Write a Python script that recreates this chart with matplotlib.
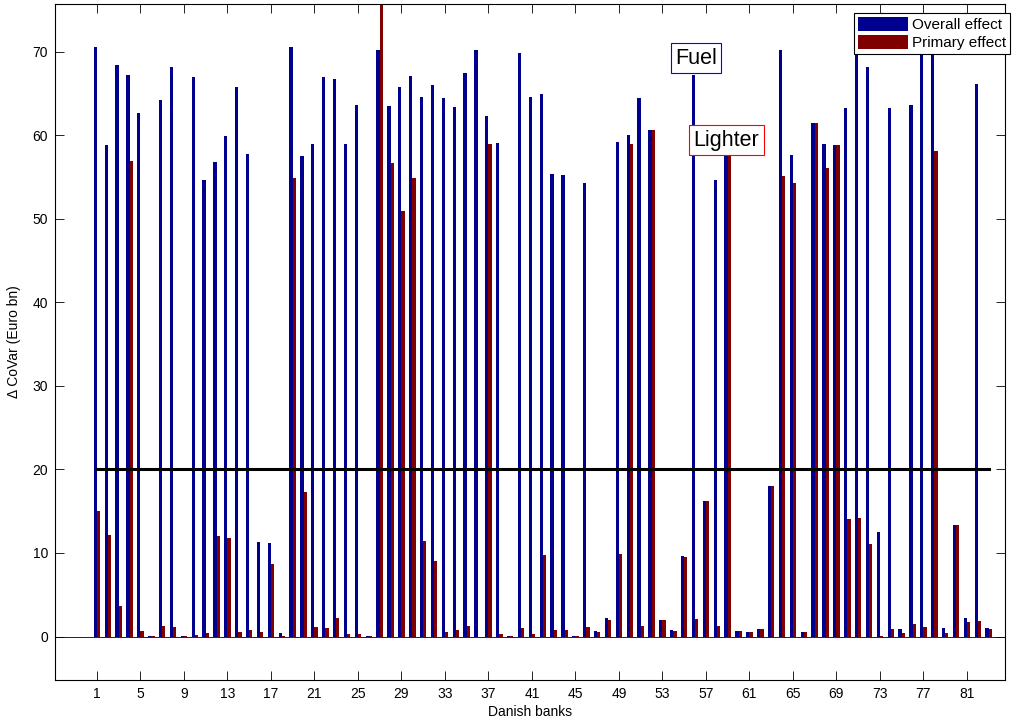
import numpy as np
import matplotlib
matplotlib.use('Agg')
import matplotlib.pyplot as plt

plt.rcParams['font.family'] = ['Liberation Sans', 'DejaVu Sans']

# Delta CoVar per Danish bank (Euro bn)
banks = list(range(1, 84))

overall_effect = [
    70.6, 58.8, 68.4, 67.2, 62.6, 0.1, 64.2, 68.2, 0.1, 67.0,
    54.6, 56.8, 59.9, 65.8, 57.8, 11.3, 11.2, 0.4, 70.6, 57.5,
    59.0, 67.0, 66.7, 58.9, 63.6, 0.1, 70.2, 63.5, 65.8, 67.1,
    64.6, 66.0, 64.5, 63.4, 67.4, 70.2, 62.3, 59.1, 0.1, 69.8,
    64.6, 64.9, 55.4, 55.2, 0.05, 54.3, 0.64, 2.2, 59.2, 60.0,
    64.5, 60.6, 2.0, 0.76, 9.6, 67.2, 16.2, 54.6, 57.6, 0.64,
    0.5, 0.9, 18.0, 70.2, 57.6, 0.5, 61.5, 58.9, 58.8, 63.2,
    71.0, 68.2, 12.5, 63.3, 0.9, 63.6, 70.5, 70.0, 1.0, 13.3,
    2.2, 66.1, 1.0,
]

primary_effect = [
    15.0, 12.1, 3.7, 56.9, 0.7, 0.05, 1.3, 1.1, 0.05, 0.16,
    0.4, 12.0, 11.8, 0.6, 0.84, 0.6, 8.7, 0.05, 54.9, 17.3,
    1.1, 1.0, 2.2, 0.3, 0.3, 0.05, 76.0, 56.7, 50.9, 54.9,
    11.4, 9.0, 0.5, 0.84, 1.3, -0.1, 58.9, 0.3, 0.05, 1.0,
    0.36, 9.8, 0.84, 0.84, 0.05, 1.1, 0.5, 2.0, 9.9, 58.9,
    1.3, 60.6, 2.0, 0.72, 9.56, 2.1, 16.2, 1.2, 57.6, 0.64,
    0.5, 0.9, 18.0, 55.1, 54.3, 0.5, 61.5, 56.1, 58.8, 14.1,
    14.2, 11.1, 0.02, 0.9, 0.4, 1.44, 1.1, 58.1, 0.4, 13.3,
    1.7, 1.9, 0.9,
]

threshold = 20
xtick_values = list(range(1, 82, 4))
series_names = ['Overall effect', 'Primary effect']

# annotations: label, bank position, height, box colour
notes = [('Fuel', 56.1, 69.2, 'blue'), ('Lighter', 58.9, 59.4, 'red')]


def draw_chart():
    fig = plt.figure(figsize=(10.18, 7.21), dpi=100)
    ax = fig.add_axes([0.054, 0.0569, 0.9332, 0.9376])

    x = np.array(banks)
    width = 0.3
    b1 = ax.bar(x - width / 2, overall_effect, width, color='#00008f',
                linewidth=0, label=series_names[0], zorder=2)
    b2 = ax.bar(x + width / 2, primary_effect, width, color='#800000',
                linewidth=0, label=series_names[1], zorder=2)

    # zero baseline across the whole axis and the 20 bn threshold
    ax.axhline(0, color='black', linewidth=0.6, zorder=3)
    ax.plot([banks[0], banks[-1]], [threshold, threshold], color='black',
            linewidth=2.2, zorder=4)

    for label, bx, by, col in notes:
        ax.text(bx, by, label, ha='center', va='center', fontsize=15.5, zorder=5,
                bbox=dict(boxstyle='square,pad=0.2', fc='white', ec=col, lw=0.8))

    ax.set_xlim(-2.86, 84.5)
    ax.set_ylim(-5.2, 75.7)
    ax.set_xticks(xtick_values)
    ax.set_yticks(range(0, 71, 10))
    ax.tick_params(direction='in', length=6.5, width=0.6, top=True, right=True,
                   labelsize=10, pad=5)
    for spine in ax.spines.values():
        spine.set_linewidth(0.8)

    ax.set_xlabel('Danish banks', fontsize=10, labelpad=3)
    ax.set_ylabel('\u0394 CoVar (Euro bn)', fontsize=10, labelpad=8)

    leg = ax.legend(handles=[b1, b2], loc='upper left',
                    bbox_to_anchor=(854 / 1018, 1 - 12.7 / 721),
                    bbox_transform=fig.transFigure, borderaxespad=0,
                    fontsize=11, fancybox=False, framealpha=1,
                    borderpad=0.25, handlelength=3.3, handleheight=1.05,
                    handletextpad=0.25, labelspacing=0.2)
    leg.get_frame().set_edgecolor('black')
    leg.get_frame().set_linewidth(0.8)
    leg.set_zorder(6)

    plt.savefig('out.png', dpi=100)


draw_chart()
